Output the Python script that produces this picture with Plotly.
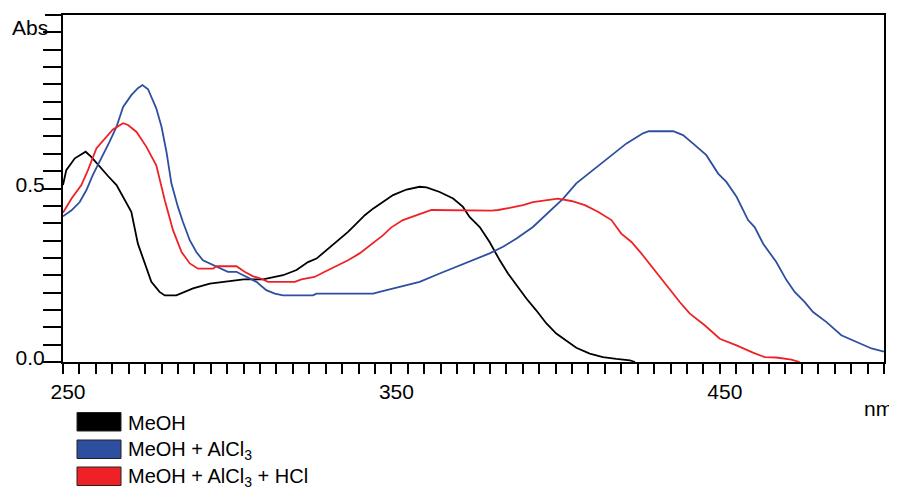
import plotly.graph_objects as go

# ---- data ----
meoh_nm = [250, 251, 253.6, 256.9, 258.6, 261.2, 263.7, 266.3, 268.3, 270.8, 272.8, 274.9, 276.9, 279.4,
           281, 284.5, 289.6, 294.7, 300.8, 305, 310.9, 312.9, 317, 321.1, 324.6, 327.2, 330.2, 333.7,
           336.8, 338.8, 341.9, 344.4, 347.4, 350.5, 354.6, 358.6, 360.7, 364.7, 368.8, 371.8, 373.8,
           376.9, 379.9, 383, 385.5, 388.1, 391.1, 394.1, 397.2, 400.2, 403.3, 406.3, 410.4, 414.4,
           418.5, 422.6, 424.2]
meoh_abs = [0.51, 0.553, 0.587, 0.606, 0.591, 0.562, 0.536, 0.51, 0.476, 0.433, 0.341, 0.284, 0.231, 0.202,
            0.192, 0.192, 0.212, 0.226, 0.234, 0.238, 0.238, 0.242, 0.25, 0.265, 0.288, 0.298, 0.322, 0.351,
            0.375, 0.394, 0.423, 0.442, 0.461, 0.481, 0.497, 0.505, 0.503, 0.49, 0.471, 0.447, 0.418,
            0.389, 0.346, 0.293, 0.255, 0.221, 0.183, 0.149, 0.111, 0.082, 0.061, 0.041, 0.024, 0.014,
            0.009, 0.005, 0.0]

alcl3_nm = [250, 252.6, 255.1, 257.1, 259.1, 261.7, 264.2, 266.3, 268.3, 270.8, 272.8, 274.2, 275.9, 278.4,
            280, 281.5, 283, 285, 286.5, 288.6, 290.6, 292.6, 295.7, 298.7, 300.2, 302.8, 305.8, 308.9,
            311.9, 314.5, 317, 326.1, 327.2, 344.4, 346.4, 350.5, 354, 358.6, 364.7, 369.8, 374.8, 379.9,
            384, 388.1, 393.1, 398.2, 402.3, 406.3, 411.4, 416.5, 421.6, 426.6, 428.4, 435.8, 438.8,
            441.8, 445.9, 449.5, 452, 455.1, 458.6, 460.6, 463.2, 467.2, 470.3, 472.8, 475.8, 478.4,
            482.5, 487, 491.6, 496.2, 500]
alcl3_abs = [0.42, 0.437, 0.461, 0.495, 0.539, 0.587, 0.635, 0.678, 0.735, 0.769, 0.789, 0.798, 0.786, 0.731,
             0.678, 0.606, 0.515, 0.447, 0.404, 0.351, 0.317, 0.293, 0.279, 0.266, 0.26, 0.26, 0.245, 0.231,
             0.207, 0.197, 0.192, 0.192, 0.197, 0.197, 0.202, 0.212, 0.221, 0.231, 0.255, 0.274, 0.293, 0.313,
             0.332, 0.356, 0.389, 0.433, 0.471, 0.515, 0.553, 0.591, 0.63, 0.659, 0.665, 0.665, 0.654,
             0.63, 0.596, 0.543, 0.519, 0.476, 0.409, 0.389, 0.341, 0.288, 0.236, 0.202, 0.173, 0.144,
             0.115, 0.077, 0.058, 0.039, 0.03]

hcl_nm = [250, 252.6, 255.6, 257.6, 260.2, 262.7, 265.2, 268.3, 269.8, 272.4, 275.4, 278.4, 281, 283.5,
          286.1, 288.6, 291.1, 295.7, 296.7, 302.8, 305.3, 307.9, 310.4, 312.4, 320.6, 322.6, 326.6, 329.7,
          332.7, 336.8, 340.3, 344.9, 347.4, 350, 353.5, 358.6, 362.2, 380.5, 382.5, 386, 390.1, 393.1,
          397.2, 400.7, 404.8, 408.9, 412.9, 417, 420, 423.1, 426.1, 428.7, 431.2, 434.7, 437.8, 440.8,
          445.4, 450, 455.1, 460.1, 463.7, 467.2, 471.8, 474.3]
hcl_abs = [0.43, 0.471, 0.51, 0.553, 0.616, 0.644, 0.67, 0.688, 0.683, 0.663, 0.62, 0.567, 0.466, 0.38,
           0.317, 0.284, 0.269, 0.269, 0.276, 0.276, 0.26, 0.247, 0.24, 0.231, 0.231, 0.238, 0.245, 0.26,
           0.274, 0.293, 0.313, 0.348, 0.365, 0.388, 0.409, 0.426, 0.438, 0.436, 0.438, 0.444, 0.452, 0.461,
           0.466, 0.471, 0.464, 0.452, 0.433, 0.409, 0.37, 0.346, 0.313, 0.282, 0.25, 0.207, 0.173, 0.14,
           0.106, 0.067, 0.048, 0.027, 0.014, 0.013, 0.007, 0.0]

series_names = ["MeOH", "MeOH + AlCl<sub>3</sub>", "MeOH + AlCl<sub>3</sub> + HCl"]
series_colors = ["#000000", "#2E4F9F", "#EE2226"]

x_tick_vals = list(range(250, 501, 5))
x_tick_labels = {250: "250", 350: "350", 450: "450"}
y_tick_vals = [round(i * 0.05, 2) for i in range(20)]
y_tick_labels = {0.0: "0.0", 0.5: "0.5"}

FONT = "Liberation Sans, Arial, sans-serif"

fig = go.Figure()
for xs, ys, name, col in zip([meoh_nm, alcl3_nm, hcl_nm], [meoh_abs, alcl3_abs, hcl_abs],
                             series_names, series_colors):
    fig.add_trace(go.Scatter(x=xs, y=ys, mode="lines", name=name,
                             line=dict(color=col, width=1.8), showlegend=False))

# The page body has an 8px margin: the figure is drawn at (8, 8) in the window.
OFF = 8
W, H = 897 - OFF, 490 - OFF
PL, PR, PT, PB = 63, 884, 15, 362       # plot area in window pixels
L, T = PL - OFF, PT - OFF
R = W - (PR - OFF)
B = H - (PB - OFF)
pw, ph = PR - PL, PB - PT

def px2paper_x(px):
    return (px - PL) / pw

def px2paper_y(py):
    return (PB - py) / ph

shapes = []
annotations = []
# extension of top frame line to the left
shapes.append(dict(type="line", xref="paper", yref="paper", x0=px2paper_x(45), x1=0, y0=1, y1=1,
                   line=dict(color="black", width=2)))
# legend boxes
box_tops = [412.5, 440, 467]
for name, col, top in zip(series_names, series_colors, box_tops):
    shapes.append(dict(type="rect", xref="paper", yref="paper",
                       x0=px2paper_x(77), x1=px2paper_x(121),
                       y0=px2paper_y(top + 18.5), y1=px2paper_y(top),
                       fillcolor=col, line=dict(color="#222222", width=1)))
    annotations.append(dict(xref="paper", yref="paper", x=px2paper_x(126), y=px2paper_y(top + 10),
                            xanchor="left", yanchor="middle", text=name, showarrow=False,
                            font=dict(family=FONT, size=20, color="black")))
annotations.append(dict(xref="paper", yref="paper", x=px2paper_x(50), y=px2paper_y(28),
                        xanchor="right", yanchor="middle", text="Abs", showarrow=False,
                        font=dict(family=FONT, size=21, color="black")))
annotations.append(dict(xref="paper", yref="paper", x=px2paper_x(878), y=px2paper_y(408),
                        xanchor="center", yanchor="middle", text="nm", showarrow=False,
                        font=dict(family=FONT, size=21, color="black")))

fig.update_layout(
    width=W, height=H,
    margin=dict(l=L, r=R, t=T, b=B, autoexpand=False),
    paper_bgcolor="white", plot_bgcolor="white",
    font=dict(family=FONT, size=21, color="black"),
    shapes=shapes, annotations=annotations,
    xaxis=dict(range=[250, 500], tickmode="array", tickvals=x_tick_vals,
               ticktext=[x_tick_labels.get(v, "") for v in x_tick_vals],
               ticks="outside", ticklen=10, tickwidth=1.5, tickcolor="black",
               showline=True, linecolor="black", linewidth=2, mirror=True, automargin=False,
               showgrid=False, zeroline=False, tickfont=dict(size=21), ticklabelshift=5),
    yaxis=dict(range=[0, 1.0], tickmode="array", tickvals=y_tick_vals,
               ticktext=[y_tick_labels.get(v, "") for v in y_tick_vals],
               ticks="outside", ticklen=18, tickwidth=1.5, tickcolor="black",
               showline=True, linecolor="black", linewidth=2, mirror=True, automargin=False,
               showgrid=False, zeroline=False, tickfont=dict(size=21),
               ticklabelshift=-4, ticklabelstandoff=-6),
)

fig.write_html("out.html")
